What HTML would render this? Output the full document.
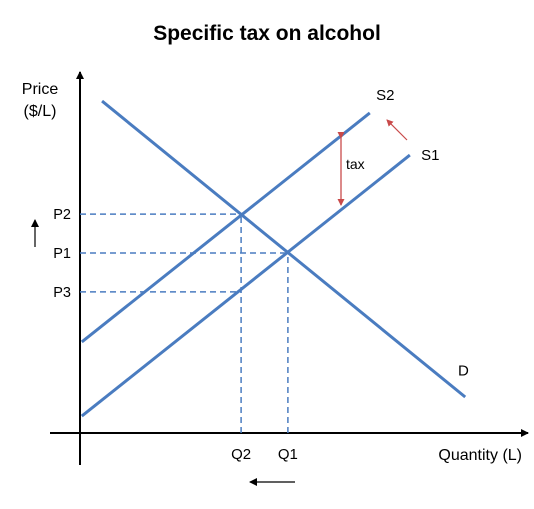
<!DOCTYPE html>
<html><head><meta charset="utf-8"><style>
body{margin:0;background:#fff;}
svg text{font-family:"Liberation Sans",sans-serif;fill:#000;}
</style></head><body>
<svg id="c" width="534" height="504" xmlns="http://www.w3.org/2000/svg">
<defs>
<marker id="ah" markerWidth="8" markerHeight="8" refX="7" refY="4" orient="auto" markerUnits="userSpaceOnUse"><path d="M0,0 L8,4 L0,8 z" fill="#000"/></marker>
<marker id="rh" markerWidth="7" markerHeight="7" refX="6" refY="3.5" orient="auto" markerUnits="userSpaceOnUse"><path d="M0,0 L7,3.5 L0,7 z" fill="#c94a4a"/></marker>
</defs>
<text x="267" y="40" text-anchor="middle" font-size="21" font-weight="bold">Specific tax on alcohol</text>
<line x1="80" y1="465" x2="80" y2="72" stroke="#000" stroke-width="2" marker-end="url(#ah)"/>
<line x1="50" y1="433" x2="528" y2="433" stroke="#000" stroke-width="2" marker-end="url(#ah)"/>
<text x="40" y="94" text-anchor="middle" font-size="16">Price</text>
<text x="40" y="116" text-anchor="middle" font-size="16">($/L)</text>
<text x="522" y="460" text-anchor="end" font-size="16">Quantity (L)</text>
<g id="marks"></g>
<line x1="341" y1="138" x2="341" y2="205" stroke="#c94a4a" stroke-width="1.3" marker-start="url(#rh)" marker-end="url(#rh)"/>
<text x="346" y="169" font-size="14">tax</text>
<line x1="407" y1="140" x2="387" y2="120" stroke="#c94a4a" stroke-width="1.2" marker-end="url(#rh)"/>
<line x1="35" y1="247" x2="35" y2="220" stroke="#000" stroke-width="1.2" marker-end="url(#ah)"/>
<line x1="295" y1="482" x2="250" y2="482" stroke="#000" stroke-width="1.2" marker-end="url(#ah)"/>
</svg>
<script>
const lineNames=["D","S1","S2"];
const lineQ=[[4.9,85.6],[0.4,73.3],[0.4,64.4]];
const lineP=[[92.2,10],[4.7,77.2],[25.3,88.9]];
const lineLabelQ=[84,75.8,65.8];
const lineLabelP=[16,75.8,92.5];
const priceNames=["P2","P1","P3"];
const priceVals=[60.8,50,39.2];
const priceQ=[35.8,46.2,35.8];
const qtyNames=["Q2","Q1"];
const qtyVals=[35.8,46.2];
const qtyP=[60.8,50];
const xs=q=>80+q*4.5, ys=p=>433-p*3.6;
const ns="http://www.w3.org/2000/svg", g=document.getElementById("marks");
function mk(t,a){const e=document.createElementNS(ns,t);for(const k in a)e.setAttribute(k,a[k]);g.appendChild(e);return e;}
priceNames.forEach((n,i)=>{
 const l=mk("line",{x1:80,y1:ys(priceVals[i]),x2:xs(priceQ[i]),y2:ys(priceVals[i]),stroke:"#4a7cc0","stroke-width":1.5,"stroke-dasharray":"6,4"});
 
 
 const t=mk("text",{x:71,y:ys(priceVals[i])+5,"text-anchor":"end","font-size":14.5});t.textContent=n;
 
 
});
qtyNames.forEach((n,i)=>{
 const l=mk("line",{x1:xs(qtyVals[i]),y1:433,x2:xs(qtyVals[i]),y2:ys(qtyP[i]),stroke:"#4a7cc0","stroke-width":1.5,"stroke-dasharray":"6,4"});
 
 
 const t=mk("text",{x:xs(qtyVals[i]),y:459,"text-anchor":"middle","font-size":15});t.textContent=n;
 
 
});
lineNames.forEach((n,i)=>{
 const l=mk("line",{x1:xs(lineQ[i][0]),y1:ys(lineP[i][0]),x2:xs(lineQ[i][1]),y2:ys(lineP[i][1]),stroke:"#4a7cc0","stroke-width":3});
 
 
 const t=mk("text",{x:xs(lineLabelQ[i]),y:ys(lineLabelP[i]),"font-size":15});t.textContent=n;
 
 
});
</script>
</body></html>
